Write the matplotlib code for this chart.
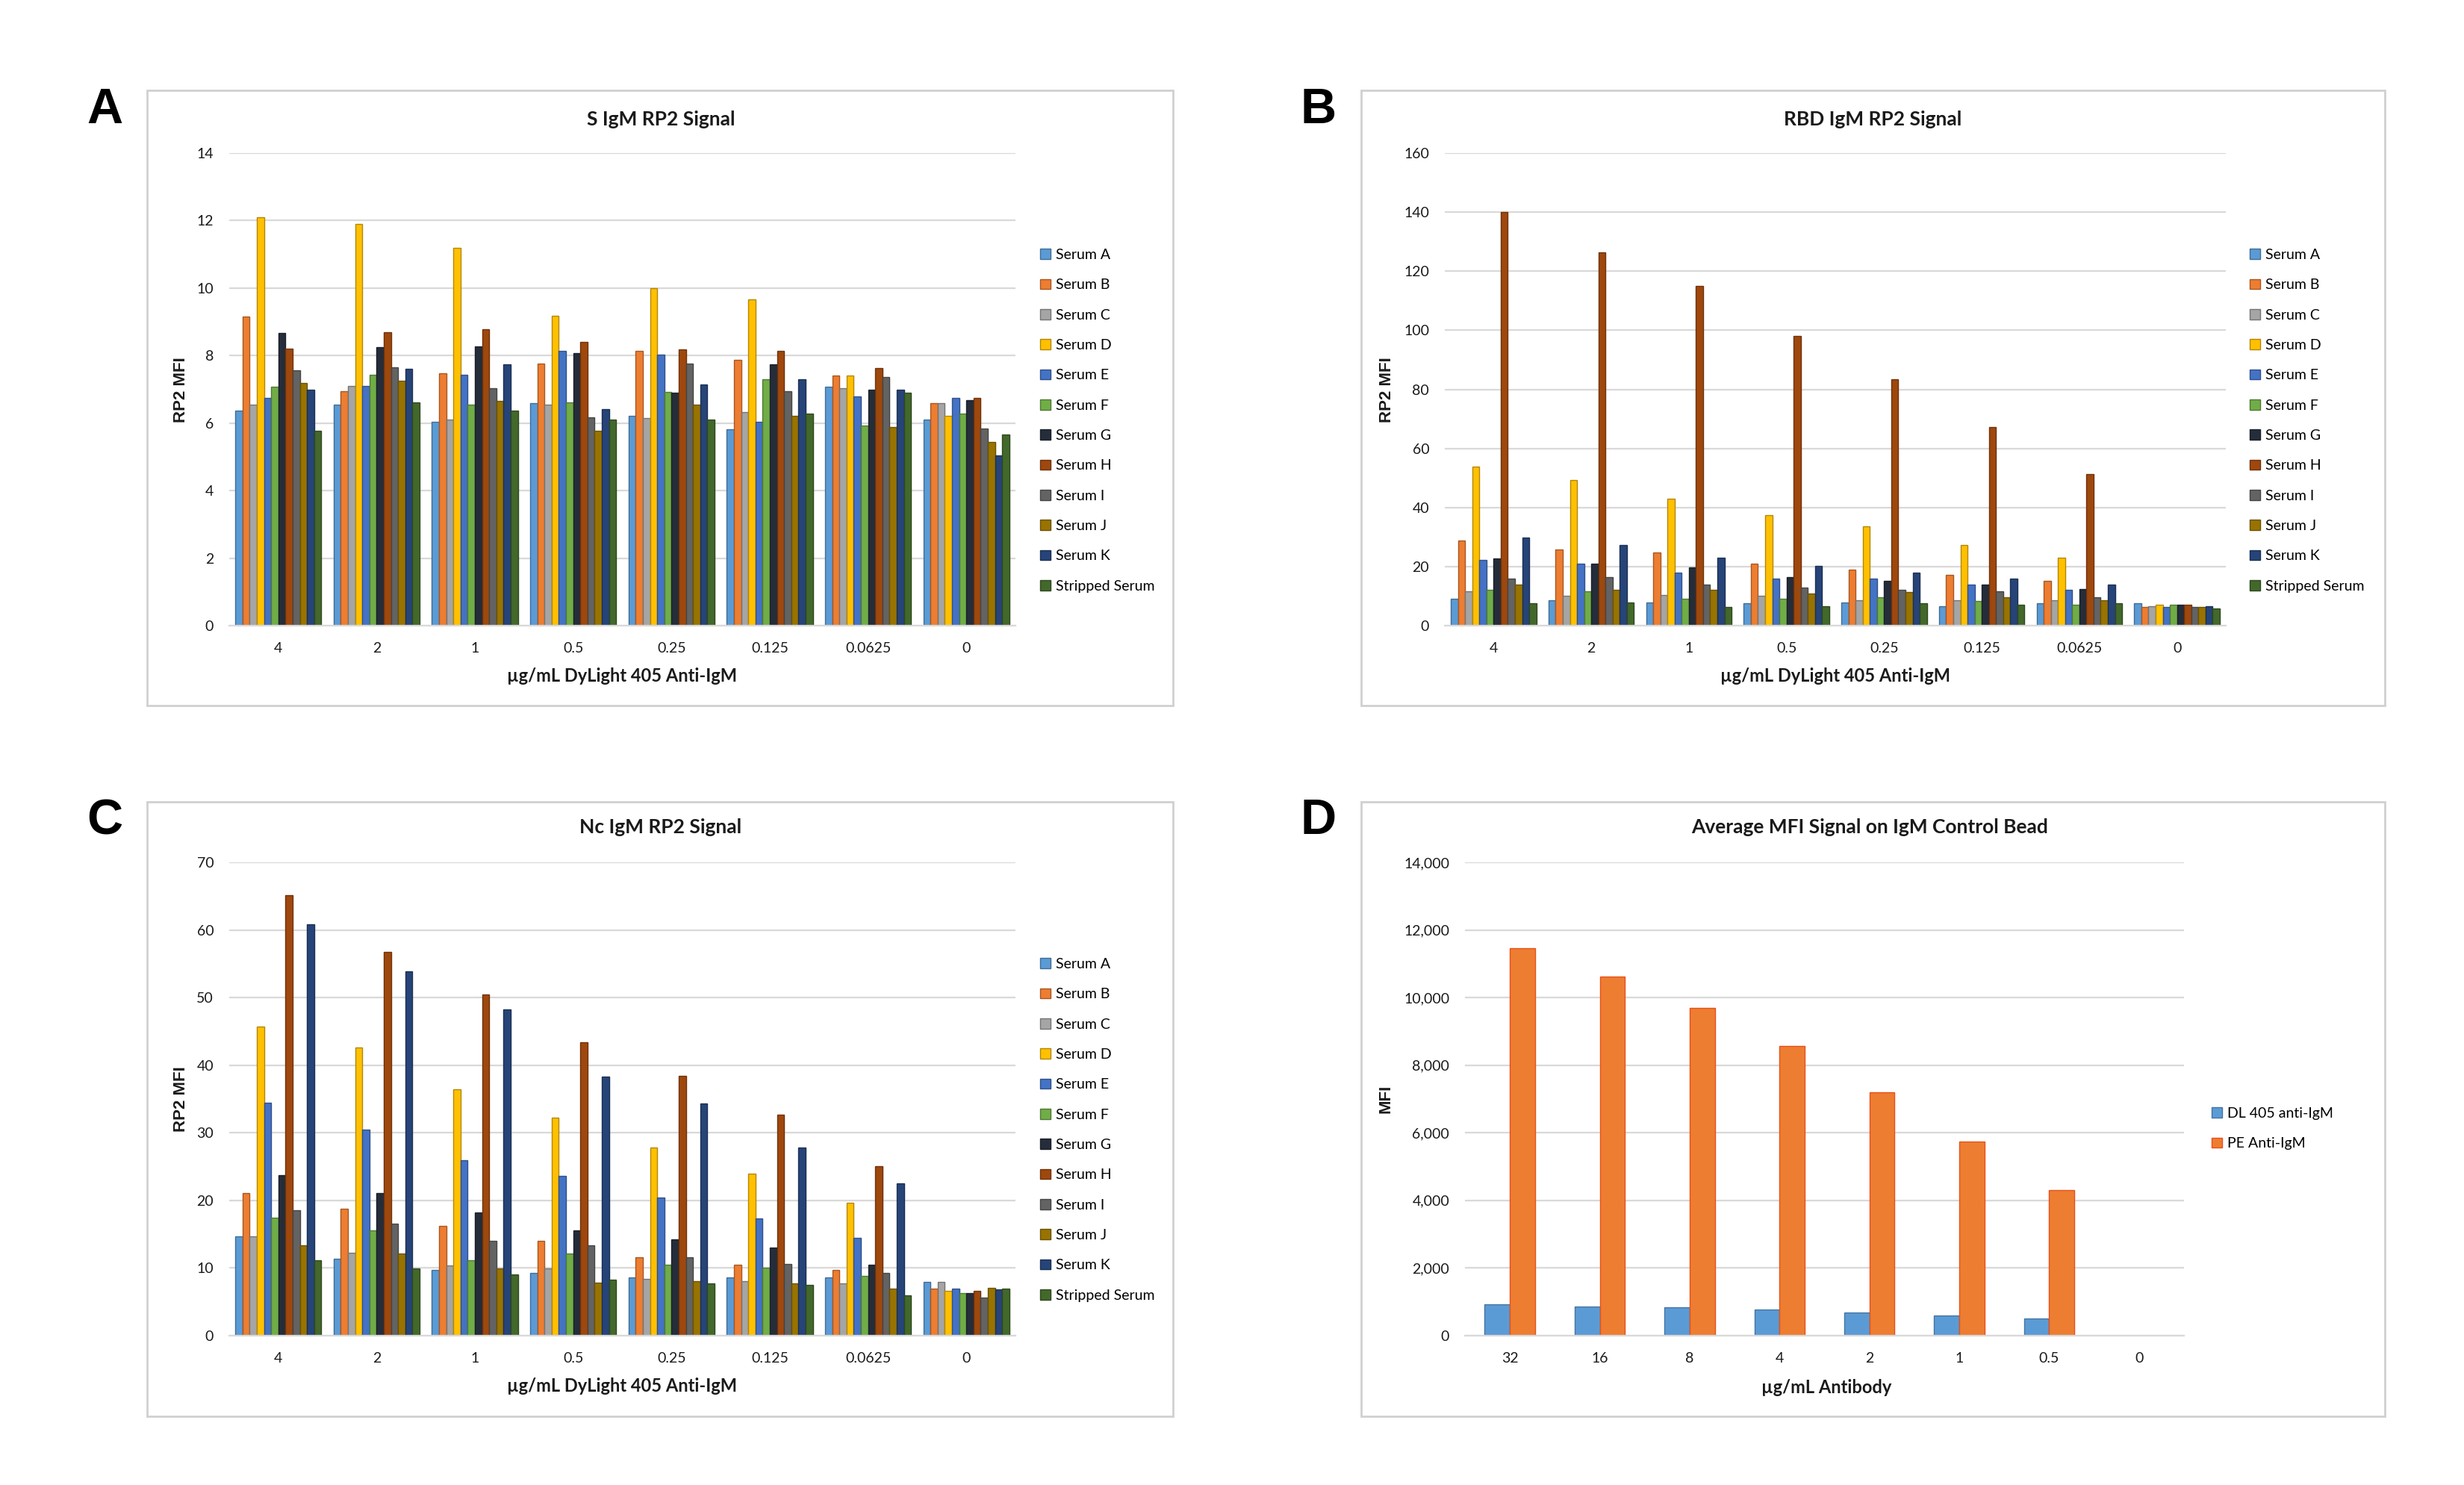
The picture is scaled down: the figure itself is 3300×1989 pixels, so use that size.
import matplotlib
matplotlib.use('Agg')
import matplotlib.pyplot as plt
from matplotlib.patches import Rectangle
from matplotlib.ticker import FuncFormatter
import matplotlib.colors as mcolors
import numpy as np

# ---- data ----
conc_labels = ['4', '2', '1', '0.5', '0.25', '0.125', '0.0625', '0']
serum_names = ['Serum A', 'Serum B', 'Serum C', 'Serum D', 'Serum E', 'Serum F',
               'Serum G', 'Serum H', 'Serum I', 'Serum J', 'Serum K', 'Stripped Serum']

# S IgM RP2 signal, one row per serum, columns follow conc_labels
s_igm = [
    [6.38, 6.55, 6.04, 6.59, 6.22, 5.82, 7.08, 6.11],   # A
    [9.15, 6.95, 7.47, 7.77, 8.14, 7.88, 7.41, 6.59],   # B
    [6.55, 7.11, 6.11, 6.55, 6.14, 6.33, 7.04, 6.59],   # C
    [12.1, 11.9, 11.2, 9.18, 10.0, 9.66, 7.41, 6.22],   # D
    [6.74, 7.11, 7.44, 8.14, 8.03, 6.03, 6.78, 6.74],   # E
    [7.08, 7.44, 6.55, 6.62, 6.92, 7.30, 5.92, 6.29],   # F
    [8.67, 8.26, 8.28, 8.07, 6.89, 7.74, 7.00, 6.69],   # G
    [8.21, 8.70, 8.77, 8.41, 8.18, 8.14, 7.63, 6.74],   # H
    [7.56, 7.66, 7.04, 6.17, 7.77, 6.95, 7.36, 5.84],   # I
    [7.19, 7.25, 6.66, 5.78, 6.55, 6.22, 5.89, 5.44],   # J
    [7.00, 7.60, 7.74, 6.41, 7.14, 7.30, 7.00, 5.05],   # K
    [5.78, 6.62, 6.37, 6.11, 6.11, 6.29, 6.89, 5.66],   # stripped
]

# RBD IgM RP2 signal
rbd_igm = [
    [9.2, 8.7, 7.9, 7.5, 7.9, 6.6, 7.5, 7.5],
    [28.9, 25.7, 24.8, 21.0, 18.9, 17.2, 15.1, 6.2],
    [11.7, 10.0, 10.4, 10.0, 8.7, 8.7, 8.7, 6.6],
    [53.9, 49.2, 42.9, 37.5, 33.6, 27.4, 23.1, 7.0],
    [22.3, 21.0, 18.0, 15.9, 15.9, 13.8, 12.1, 6.2],
    [12.1, 11.7, 9.2, 9.2, 9.6, 8.3, 7.0, 7.0],
    [22.7, 21.0, 19.7, 16.4, 15.1, 13.8, 12.5, 7.0],
    [140.0, 126.5, 115.0, 98.0, 83.5, 67.3, 51.4, 7.0],
    [15.9, 16.4, 13.8, 13.0, 12.1, 11.7, 9.6, 6.2],
    [13.8, 12.1, 12.1, 10.8, 11.3, 9.6, 8.7, 6.2],
    [29.7, 27.2, 23.1, 20.2, 18.0, 15.9, 13.8, 6.6],
    [7.5, 7.9, 6.2, 6.6, 7.5, 7.0, 7.5, 5.8],
]

# Nc IgM RP2 signal
nc_igm = [
    [14.7, 11.4, 9.7, 9.3, 8.6, 8.6, 8.6, 7.9],
    [21.1, 18.8, 16.2, 14.0, 11.6, 10.5, 9.7, 7.0],
    [14.7, 12.3, 10.4, 9.9, 8.4, 8.1, 7.7, 7.9],
    [45.7, 42.6, 36.4, 32.2, 27.8, 24.0, 19.7, 6.6],
    [34.5, 30.5, 26.0, 23.6, 20.4, 17.3, 14.5, 7.0],
    [17.4, 15.6, 11.1, 12.1, 10.5, 10.0, 8.8, 6.3],
    [23.7, 21.1, 18.2, 15.6, 14.2, 13.0, 10.5, 6.3],
    [65.1, 56.8, 50.5, 43.4, 38.4, 32.7, 25.1, 6.6],
    [18.6, 16.6, 14.0, 13.4, 11.6, 10.6, 9.3, 5.6],
    [13.4, 12.1, 9.9, 7.8, 8.1, 7.7, 7.0, 7.1],
    [60.8, 53.9, 48.3, 38.3, 34.3, 27.8, 22.5, 6.8],
    [11.1, 9.9, 9.0, 8.3, 7.7, 7.5, 6.0, 7.0],
]

# control bead
ab_labels = ['32', '16', '8', '4', '2', '1', '0.5', '0']
ctrl_names = ['DL 405 anti-IgM', 'PE Anti-IgM']
dl405 = [918, 871, 833, 768, 693, 590, 515, 0]
pe_igm = [11470, 10618, 9691, 8558, 7191, 5740, 4298, 0]

serum_colors = ['#5B9BD5', '#ED7D31', '#A5A5A5', '#FFC000', '#4472C4', '#70AD47',
                '#252D3A', '#9E480E', '#636363', '#997300', '#264478', '#43682B']

# ---- figure ----
W, H = 3300, 1989
fig = plt.figure(figsize=(W / 200, H / 200), dpi=200)
FONT = ['Lato', 'DejaVu Sans']
plt.rcParams['font.family'] = FONT
GRID = '#D9D9D9'
TXT = '#1A1A1A'


def px_box(x0, y0, x1, y1):
    return [x0 / W, 1 - y1 / H, (x1 - x0) / W, (y1 - y0) / H]


def darker(c, f=0.7):
    r, g, b = mcolors.to_rgb(c)
    return (r * f, g * f, b * f)


def frame(x0, y0, x1, y1):
    fig.add_artist(Rectangle((x0 / W, 1 - y1 / H), (x1 - x0) / W, (y1 - y0) / H,
                             transform=fig.transFigure, fill=False,
                             edgecolor='#D0D0D0', linewidth=1.0))


def style_axes(ax, ymax, ystep, labels):
    ax.set_xlim(-0.5, len(labels) - 0.5)
    ax.set_ylim(0, ymax)
    ax.set_yticks(np.arange(0, ymax + ystep / 2, ystep))
    ax.set_xticks(np.arange(len(labels)))
    ax.set_xticklabels(labels)
    ax.yaxis.grid(True, color=GRID, linewidth=0.8)
    ax.set_axisbelow(True)
    for sp in ['top', 'right', 'left']:
        ax.spines[sp].set_visible(False)
    ax.spines['bottom'].set_color(GRID)
    ax.spines['bottom'].set_linewidth(0.8)
    ax.tick_params(axis='both', length=0, labelsize=7, colors=TXT)
    ax.tick_params(axis='y', pad=7.5)
    ax.tick_params(axis='x', pad=8)


def add_legend(ax, xy):
    ax.legend(loc='upper left', bbox_to_anchor=(xy[0] / W, 1 - xy[1] / H),
              bbox_transform=fig.transFigure, frameon=False, fontsize=7,
              handlelength=0.7, handleheight=0.7, handletextpad=0.4,
              labelspacing=1.2, borderpad=0, borderaxespad=0)


def serum_panel(rect, data, ymax, ystep, title, title_xy, xlab_xy, ylab_xy, leg_xy):
    ax = fig.add_axes(px_box(*rect))
    x = np.arange(len(conc_labels))
    n = len(serum_names)
    w = 0.875 / n
    for i in range(n):
        ax.bar(x - 0.4375 + w * (i + 0.5), data[i], width=w, color=serum_colors[i],
               edgecolor=darker(serum_colors[i]), linewidth=0.5, label=serum_names[i])
    style_axes(ax, ymax, ystep, conc_labels)
    fig.text(title_xy[0] / W, 1 - title_xy[1] / H, title, ha='center', va='center',
             fontsize=9.5, fontweight='bold', color=TXT)
    fig.text(xlab_xy[0] / W, 1 - xlab_xy[1] / H, 'µg/mL DyLight 405 Anti-IgM',
             ha='center', va='center', fontsize=8.5, fontweight='bold', color=TXT)
    fig.text(ylab_xy[0] / W, 1 - ylab_xy[1] / H, 'RP2 MFI', rotation=90,
             ha='center', va='center', fontsize=8, fontweight='bold', color=TXT,
             family=['Liberation Sans', 'DejaVu Sans'])
    add_legend(ax, leg_xy)
    return ax


# panel frames and letters
frame(197, 121, 1571, 945)
frame(1823, 121, 3194, 945)
frame(197, 1074, 1571, 1897)
frame(1823, 1074, 3194, 1897)
for letter, lx, ly in [('A', 140, 148), ('B', 1766, 148), ('C', 140, 1100), ('D', 1766, 1100)]:
    fig.text(lx / W, 1 - ly / H, letter, ha='center', va='center', fontsize=24,
             fontweight='bold', family=['Liberation Sans', 'DejaVu Sans'], color='black')

serum_panel((307, 205, 1360, 838), s_igm, 14, 2, 'S IgM RP2 Signal',
            (885, 160), (833, 906), (242, 522), (1393, 333))
serum_panel((1935, 205, 2981, 838), rbd_igm, 160, 20, 'RBD IgM RP2 Signal',
            (2508, 160), (2458, 906), (1858, 522), (3013, 333))
serum_panel((307, 1155, 1360, 1789), nc_igm, 70, 10, 'Nc IgM RP2 Signal',
            (885, 1108), (833, 1856), (242, 1472), (1393, 1283))

# panel D
axd = fig.add_axes(px_box(1962, 1155, 2925, 1789))
x = np.arange(len(ab_labels))
wd = 0.28
axd.bar(x - wd / 2, dl405, width=wd, color='#5B9BD5', edgecolor=darker('#5B9BD5', 0.75),
        linewidth=0.5, label=ctrl_names[0])
axd.bar(x + wd / 2, pe_igm, width=wd, color='#ED7D31', edgecolor='#E8501A',
        linewidth=0.5, label=ctrl_names[1])
style_axes(axd, 14000, 2000, ab_labels)
axd.yaxis.set_major_formatter(FuncFormatter(lambda v, p: '{:,.0f}'.format(v)))
fig.text(2504 / W, 1 - 1108 / H, 'Average MFI Signal on IgM Control Bead', ha='center',
         va='center', fontsize=9.5, fontweight='bold', color=TXT)
fig.text(2446 / W, 1 - 1858 / H, 'µg/mL Antibody', ha='center', va='center',
         fontsize=8.5, fontweight='bold', color=TXT)
fig.text(1856 / W, 1 - 1472 / H, 'MFI', rotation=90, ha='center', va='center',
         fontsize=8, fontweight='bold', color=TXT, family=['Liberation Sans', 'DejaVu Sans'])
add_legend(axd, (2962, 1483))

fig.savefig('out.png', dpi=200, facecolor='white')
